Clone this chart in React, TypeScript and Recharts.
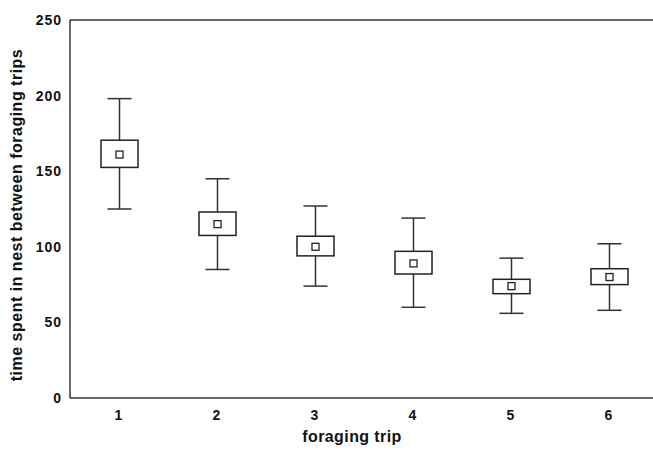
import React from 'react';
import { ComposedChart, Bar, XAxis, YAxis } from 'recharts';

const trips = ['1', '2', '3', '4', '5', '6'];
const whiskerLow = [125, 85, 74, 60, 56, 58];
const boxLow = [152.5, 107.5, 94, 82, 69, 75];
const means = [161, 115, 100, 89, 74, 80];
const boxHigh = [170.5, 123, 107, 97, 78.5, 85.5];
const whiskerHigh = [198, 145, 127, 119, 92.5, 102];
const yTicks = [0, 50, 100, 150, 200, 250];
const boundaryTicks = [1.5, 2.5, 3.5, 4.5, 5.5];

const data = trips.map((t, i) => ({
  trip: t,
  pos: i + 1,
  range: [whiskerLow[i], whiskerHigh[i]],
  lo: whiskerLow[i],
  hi: whiskerHigh[i],
  q1: boxLow[i],
  q3: boxHigh[i],
  mean: means[i],
}));

const FONT = '"Liberation Sans", Arial, sans-serif';

const BoxShape = (props: any) => {
  const { x, y, width, height, payload } = props;
  const top = Math.min(y, y + height);
  const bottom = Math.max(y, y + height);
  const lo = payload.lo;
  const hi = payload.hi;
  const toY = (v: number) => bottom - ((v - lo) / (hi - lo)) * (bottom - top);
  const cx = x + width / 2;
  const capHalf = 12;
  const yQ1 = toY(payload.q1);
  const yQ3 = toY(payload.q3);
  const yM = toY(payload.mean);
  const m = 3.5;
  return (
    <g>
      <line x1={cx} x2={cx} y1={top} y2={yQ3} stroke="#333" strokeWidth={1.5} />
      <line x1={cx} x2={cx} y1={yQ1} y2={bottom} stroke="#333" strokeWidth={1.5} />
      <line x1={cx - capHalf} x2={cx + capHalf} y1={top} y2={top} stroke="#333" strokeWidth={1.5} />
      <line x1={cx - capHalf} x2={cx + capHalf} y1={bottom} y2={bottom} stroke="#333" strokeWidth={1.5} />
      <rect x={x} y={yQ3} width={width} height={yQ1 - yQ3} fill="#fff" stroke="#222" strokeWidth={1.5} />
      <rect x={cx - m} y={yM - m} width={2 * m} height={2 * m} fill="#fff" stroke="#222" strokeWidth={1.3} />
    </g>
  );
};

export default function App() {
  return (
    <div style={{ position: 'absolute', left: 0, top: 0, width: 653, height: 451, overflow: 'hidden', background: '#fff' }}>
      <ComposedChart
        width={670}
        height={451}
        data={data}
        margin={{ top: 20, right: 12, left: 10, bottom: 0 }}
      >
        <XAxis
          dataKey="trip"
          type="category"
          height={53}
          tickLine={false}
          tickSize={6}
          tickMargin={6}
          axisLine={{ stroke: '#333', strokeWidth: 1.5 }}
          tick={{ fill: '#111', fontSize: 14, fontWeight: 'bold', fontFamily: FONT, letterSpacing: 1 }}
          label={{
            content: () => (
              <text x={352} y={442} textAnchor="middle" fill="#111" fontSize={16} fontWeight="bold" fontFamily={FONT} letterSpacing={0.4}>
                foraging trip
              </text>
            ),
          }}
        />
        <XAxis
          xAxisId="bot"
          orientation="bottom"
          type="number"
          dataKey="pos"
          domain={[0.5, 6.5]}
          ticks={boundaryTicks}
          mirror
          height={10}
          tick={false}
          tickSize={4}
          axisLine={false}
          tickLine={{ stroke: '#555', strokeWidth: 1.2 }}
        />
        <XAxis
          xAxisId="top"
          orientation="top"
          type="number"
          dataKey="pos"
          domain={[0.5, 6.5]}
          ticks={boundaryTicks}
          mirror
          height={10}
          tick={false}
          tickSize={4}
          axisLine={{ stroke: '#333', strokeWidth: 1.5 }}
          tickLine={{ stroke: '#555', strokeWidth: 1.2 }}
        />
        <YAxis
          type="number"
          domain={[0, 250]}
          ticks={yTicks}
          width={60}
          tickLine={false}
          tickSize={0}
          tickMargin={8}
          axisLine={{ stroke: '#333', strokeWidth: 1.5 }}
          tick={{ fill: '#111', fontSize: 14, fontWeight: 'bold', fontFamily: FONT, letterSpacing: 1 }}
          label={{
            content: () => (
              <text x={22} y={215} transform="rotate(-90 22 215)" textAnchor="middle" fill="#111" fontSize={16} fontWeight="bold" fontFamily={FONT} letterSpacing={0.5}>
                time spent in nest between foraging trips
              </text>
            ),
          }}
        />
        <YAxis
          yAxisId="tk"
          orientation="left"
          type="number"
          domain={[0, 250]}
          ticks={yTicks}
          mirror
          width={10}
          tick={false}
          tickSize={4}
          axisLine={false}
          tickLine={{ stroke: '#555', strokeWidth: 1.2 }}
        />
        <Bar dataKey="range" barSize={37} shape={<BoxShape />} isAnimationActive={false} />
      </ComposedChart>
    </div>
  );
}
